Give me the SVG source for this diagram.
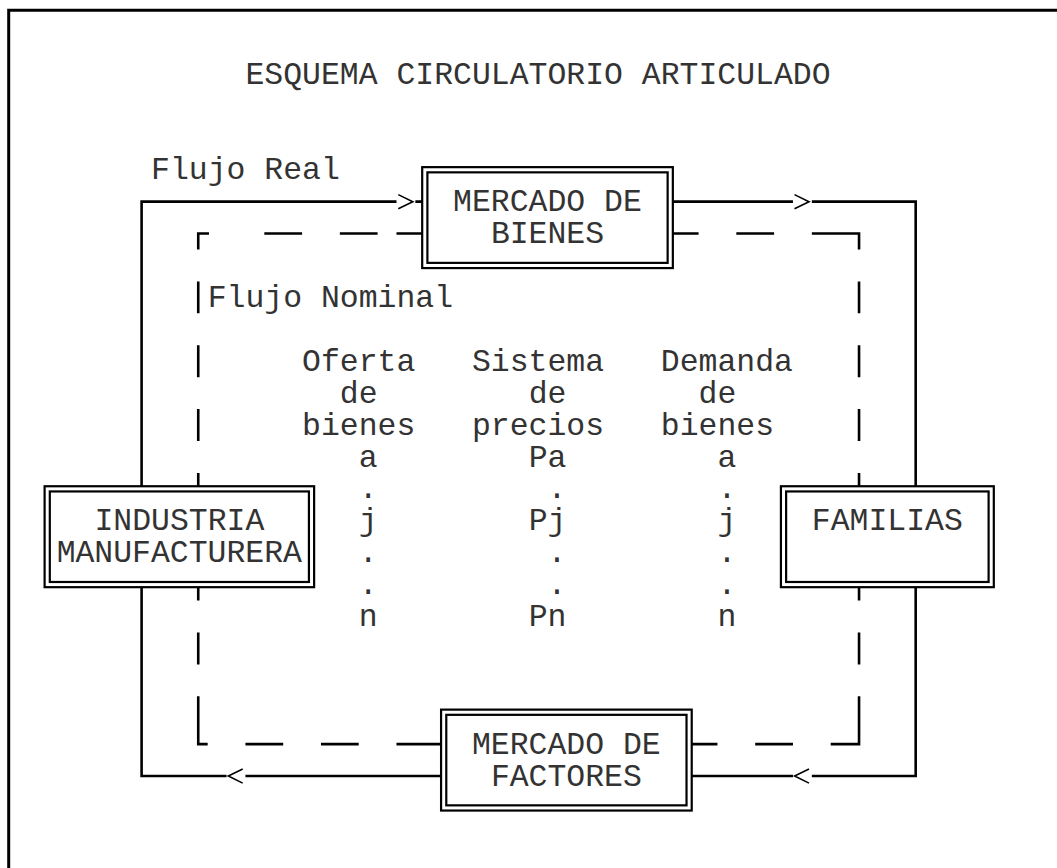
<svg xmlns="http://www.w3.org/2000/svg" width="1057" height="868" viewBox="0 0 1057 868">
<style>
  .t { font-family: "Liberation Mono", "Courier New", monospace; font-size: 31.46px; fill: #333; }
  .solid { fill: none; stroke: #000; stroke-width: 2.6; stroke-linecap: butt; stroke-linejoin: miter; }
  .dash { fill: none; stroke: #000; stroke-width: 2.6; stroke-linecap: butt; stroke-linejoin: miter; }
  .head { fill: none; stroke: #000; stroke-width: 1.6; stroke-linejoin: miter; }
  .box { fill: none; stroke: #000; stroke-width: 2.2; }
  .frame { fill: none; stroke: #000; stroke-width: 3; }
</style>
<rect x="0" y="0" width="1057" height="868" fill="#fff"/>
<path class="frame" d="M8.7 868 V10.3 H1057"/>

<g id="title">
  <text class="t" x="245.44" y="83.62">ESQUEMA CIRCULATORIO ARTICULADO</text>
</g>
<g id="label-flujo-real">
  <text class="t" x="151.04" y="179.35">Flujo Real</text>
</g>
<g id="label-flujo-nominal">
  <text class="t" x="207.68" y="306.99">Flujo Nominal</text>
</g>

<g id="connectors">
  <!-- solid real flow loop -->
  <path class="solid" d="M141.6 486.25 V201.66 H396.48 M415.36 201.66 H422.2"/>
  <path class="solid" d="M672.84 201.66 H792.96 M811.84 201.66 H915.68 V486.25"/>
  <path class="solid" d="M915.68 587.18 V776.04 H811.84 M792.96 776.04 H691.72"/>
  <path class="solid" d="M441.08 776.04 H245.44 M226.56 776.04 H141.6 V587.18"/>
  <polyline class="head" points="398.3,194.6 412.8,201.66 398.3,208.7"/>
  <polyline class="head" points="794.5,194.6 809,201.66 794.5,208.7"/>
  <polyline class="head" points="242.7,769 228.3,776.04 242.7,783.1"/>
  <polyline class="head" points="809,769 794.6,776.04 809,783.1"/>
  <!-- dashed nominal flow loop -->
  <path class="dash" d="M209 233.57 H198.24 V249.53 M264.32 233.57 H302.08 M339.84 233.57 H377.6 M396.48 233.57 H422.2"/>
  <path class="dash" d="M672.84 233.57 H698.56 M736.32 233.57 H774.08 M811.84 233.57 H859.04 V249.53"/>
  <path class="dash" d="M198.24 281.4 V313.3 M198.24 345.3 V377.2 M198.24 409.1 V441 M198.24 472.9 V486.25 M198.24 587.18 V600.5 M198.24 632.4 V664.4 M198.24 696.3 V744.13 H207.68"/>
  <path class="dash" d="M859.04 281.4 V313.3 M859.04 345.3 V377.2 M859.04 409.1 V441 M859.04 472.9 V486.25 M859.04 587.18 V600.5 M859.04 632.4 V664.4 M859.04 696.3 V744.13 H830.72"/>
  <path class="dash" d="M245.44 744.13 H283.2 M320.96 744.13 H358.72 M396.48 744.13 H441.08"/>
  <path class="dash" d="M691.72 744.13 H717.44 M755.2 744.13 H792.96"/>
</g>

<g id="mercado-bienes">
  <rect class="box" x="422.2" y="167.15" width="250.64" height="100.93"/>
  <rect class="box" x="427.4" y="172.35" width="240.24" height="90.53"/>
  <text class="t" x="453.12" y="211.26">MERCADO DE</text>
  <text class="t" x="490.88" y="243.17">BIENES</text>
</g>

<g id="industria-manufacturera">
  <rect class="box" x="44.6" y="486.25" width="269.52" height="100.93"/>
  <rect class="box" x="49.8" y="491.45" width="259.12" height="90.53"/>
  <text class="t" x="94.4" y="530.36">INDUSTRIA</text>
  <text class="t" x="56.64" y="562.27">MANUFACTURERA</text>
</g>

<g id="familias">
  <rect class="box" x="780.92" y="486.25" width="212.88" height="100.93"/>
  <rect class="box" x="786.12" y="491.45" width="202.48" height="90.53"/>
  <text class="t" x="811.84" y="530.36">FAMILIAS</text>
</g>

<g id="mercado-factores">
  <rect class="box" x="441.08" y="709.62" width="250.64" height="100.93"/>
  <rect class="box" x="446.28" y="714.82" width="240.24" height="90.53"/>
  <text class="t" x="472" y="753.73">MERCADO DE</text>
  <text class="t" x="490.88" y="785.64">FACTORES</text>
</g>

<g id="oferta">
  <text class="t" x="302.08" y="370.81">Oferta</text>
  <text class="t" x="339.84" y="402.72">de</text>
  <text class="t" x="302.08" y="434.63">bienes</text>
  <text class="t" x="358.72" y="466.54">a</text>
  <text class="t" x="358.72" y="498.45">.</text>
  <text class="t" x="358.72" y="530.36">j</text>
  <text class="t" x="358.72" y="562.27">.</text>
  <text class="t" x="358.72" y="594.18">.</text>
  <text class="t" x="358.72" y="626.09">n</text>
</g>

<g id="sistema-precios">
  <text class="t" x="472" y="370.81">Sistema</text>
  <text class="t" x="528.64" y="402.72">de</text>
  <text class="t" x="472" y="434.63">precios</text>
  <text class="t" x="528.64" y="466.54">Pa</text>
  <text class="t" x="547.52" y="498.45">.</text>
  <text class="t" x="528.64" y="530.36">Pj</text>
  <text class="t" x="547.52" y="562.27">.</text>
  <text class="t" x="547.52" y="594.18">.</text>
  <text class="t" x="528.64" y="626.09">Pn</text>
</g>

<g id="demanda">
  <text class="t" x="660.8" y="370.81">Demanda</text>
  <text class="t" x="698.56" y="402.72">de</text>
  <text class="t" x="660.8" y="434.63">bienes</text>
  <text class="t" x="717.44" y="466.54">a</text>
  <text class="t" x="717.44" y="498.45">.</text>
  <text class="t" x="717.44" y="530.36">j</text>
  <text class="t" x="717.44" y="562.27">.</text>
  <text class="t" x="717.44" y="594.18">.</text>
  <text class="t" x="717.44" y="626.09">n</text>
</g>
</svg>
